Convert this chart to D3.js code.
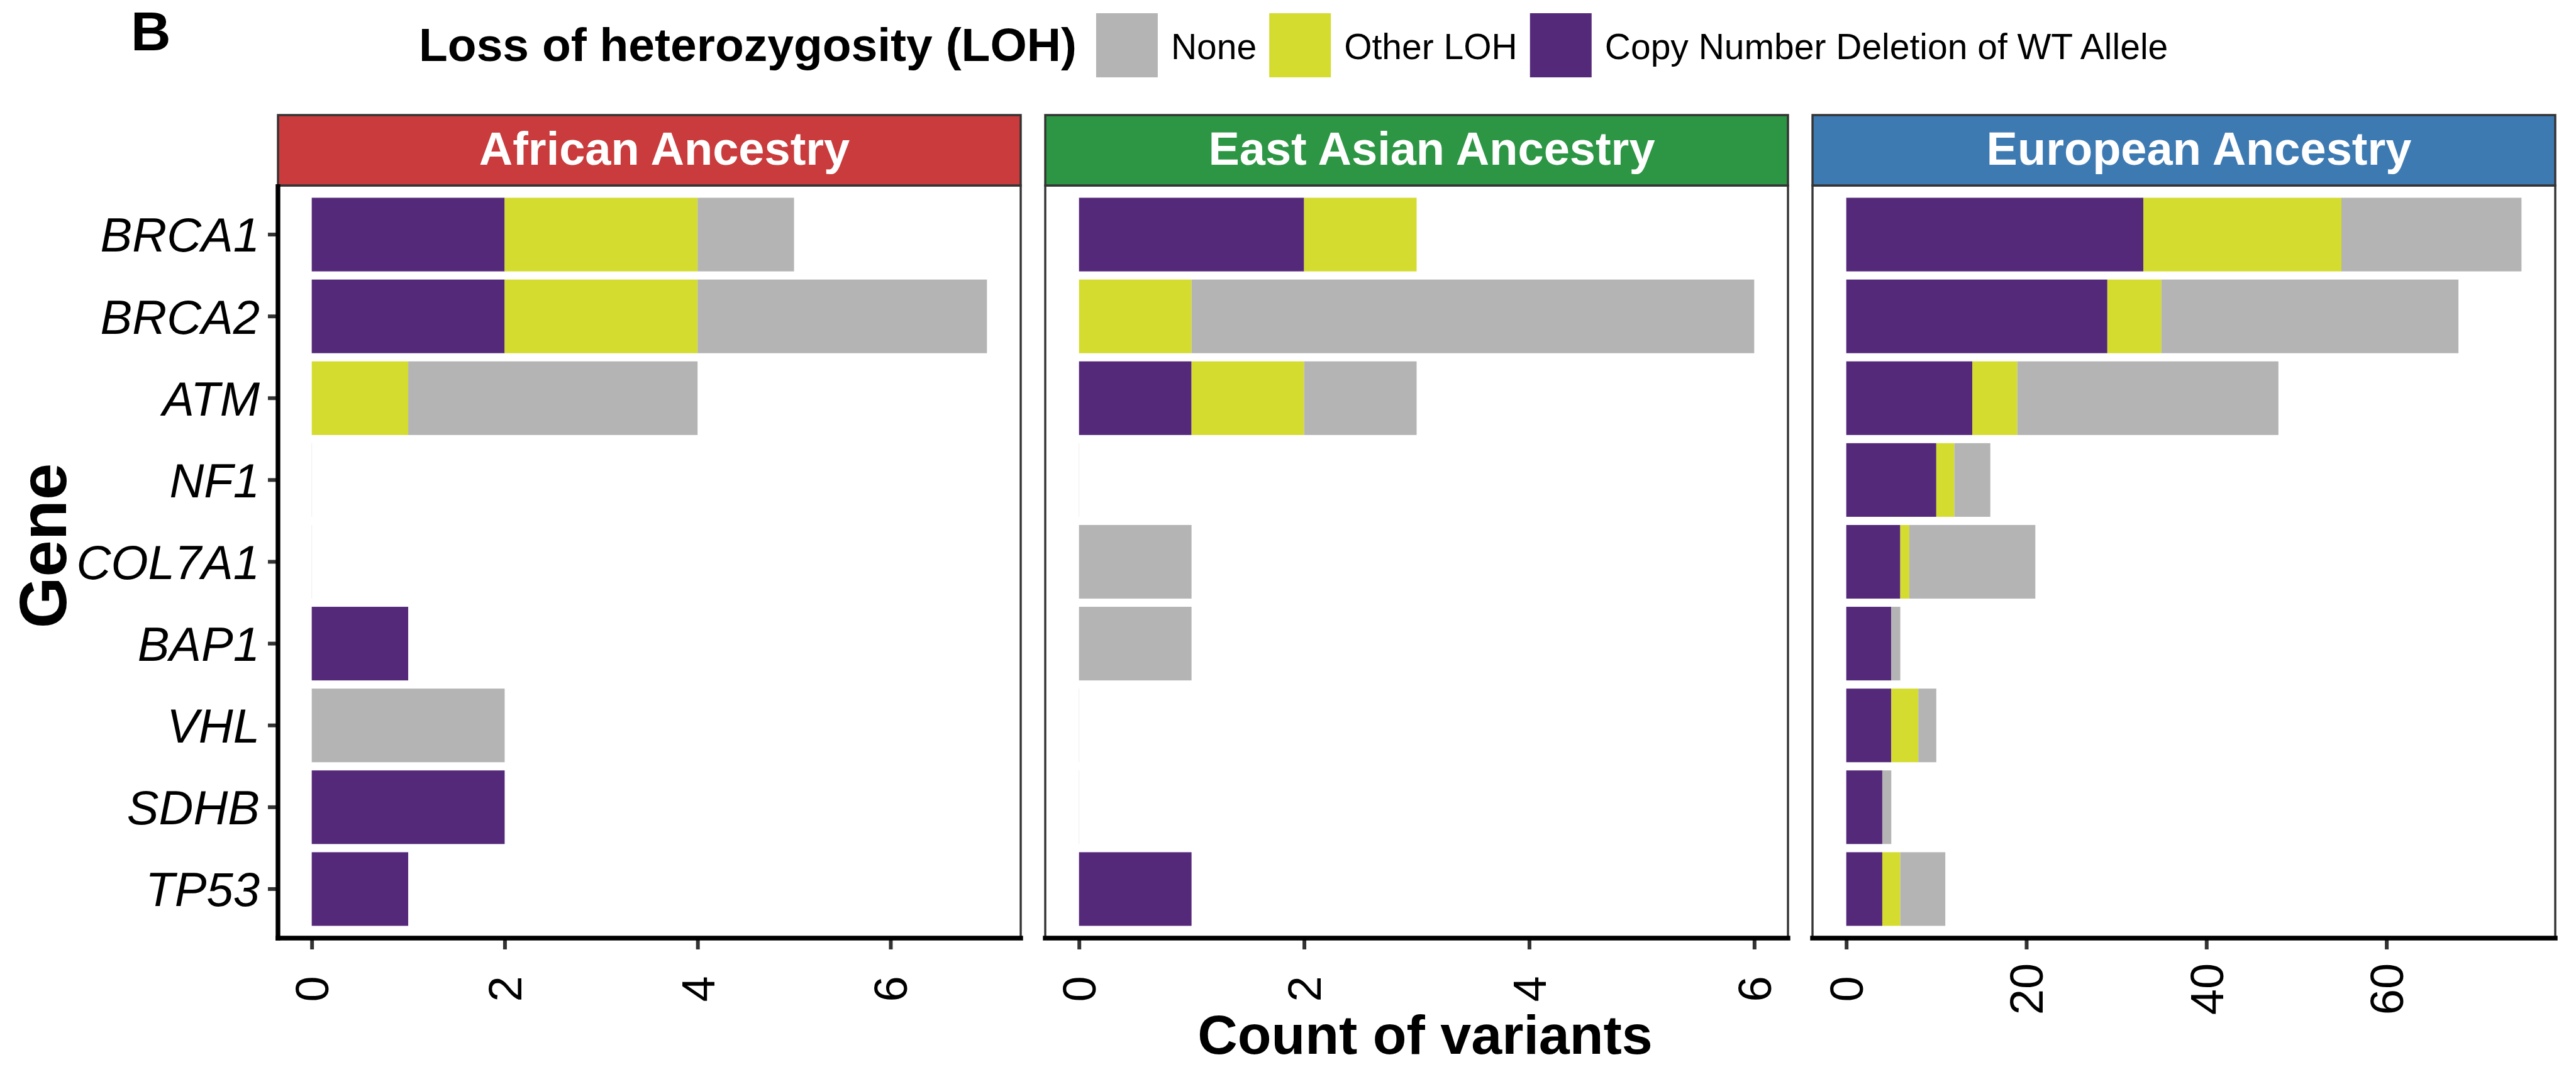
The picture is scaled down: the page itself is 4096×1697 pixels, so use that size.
<!DOCTYPE html>
<html>
<head>
<meta charset="utf-8">
<script src="https://cdn.jsdelivr.net/npm/d3@7"></script>
<style>
  html, body { margin: 0; padding: 0; background: #ffffff; }
  svg { display: block; }
</style>
</head>
<body>
<svg id="chart" width="4096" height="1697"></svg>
<script>
// Genes, top to bottom
const genes = ["BRCA1", "BRCA2", "ATM", "NF1", "COL7A1", "BAP1", "VHL", "SDHB", "TP53"];

// Facet panels
const ancestries = ["African Ancestry", "East Asian Ancestry", "European Ancestry"];

// LOH categories in stacking order (from zero outward) and legend order
const stackLevels = ["Copy Number Deletion of WT Allele", "Other LOH", "None"];
const legendLevels = ["None", "Other LOH", "Copy Number Deletion of WT Allele"];
const levelColors = ["#552979", "#D3DC2F", "#B4B4B4"];

// Variant counts per gene (same order as genes)
const africanDeletion = [2, 2, 0, 0, 0, 1, 0, 2, 1];
const africanOther    = [2, 2, 1, 0, 0, 0, 0, 0, 0];
const africanNone     = [1, 3, 3, 0, 0, 0, 2, 0, 0];

const eastAsianDeletion = [2, 0, 1, 0, 0, 0, 0, 0, 1];
const eastAsianOther    = [1, 1, 1, 0, 0, 0, 0, 0, 0];
const eastAsianNone     = [0, 5, 1, 0, 1, 1, 0, 0, 0];

const europeanDeletion = [33, 29, 14, 10, 6, 5, 5, 4, 4];
const europeanOther    = [22,  6,  5,  2, 1, 0, 3, 0, 2];
const europeanNone     = [20, 33, 29,  4, 14, 1, 2, 1, 5];

// Axis tick values per panel
const africanTicks = [0, 2, 4, 6];
const eastAsianTicks = [0, 2, 4, 6];
const europeanTicks = [0, 20, 40, 60];

const stripColors = ["#C93B3C", "#2C9644", "#3E7AB2"];

// Panel table assembled from the arrays above
const panels = [
  { name: ancestries[0], fill: stripColors[0], ticks: africanTicks,   series: [africanDeletion, africanOther, africanNone] },
  { name: ancestries[1], fill: stripColors[1], ticks: eastAsianTicks, series: [eastAsianDeletion, eastAsianOther, eastAsianNone] },
  { name: ancestries[2], fill: stripColors[2], ticks: europeanTicks,  series: [europeanDeletion, europeanOther, europeanNone] }
];

// ---- layout ----
const FONT = "'Liberation Sans', Arial, Helvetica, sans-serif";
const stripTop = 183, panelTop = 295, panelBottom = 1492;
const panelW = 1181, panelGap = 39, firstLeft = 442;
const svg = d3.select("#chart");

const y = d3.scaleBand()
  .domain(genes)
  .range([panelTop, panelBottom])
  .paddingInner(0.1)
  .paddingOuter(0.15);

panels.forEach((p, pi) => {
  const left = firstLeft + pi * (panelW + panelGap);
  const right = left + panelW;

  const rows = genes.map((g, gi) => {
    const row = { gene: g };
    stackLevels.forEach((lv, li) => { row[lv] = p.series[li][gi]; });
    return row;
  });
  const stacked = d3.stack().keys(stackLevels)(rows);
  const maxTotal = d3.max(rows, r => d3.sum(stackLevels, k => r[k]));

  const x = d3.scaleLinear()
    .domain([-0.05 * maxTotal, 1.05 * maxTotal])
    .range([left, right]);

  const g = svg.append("g");

  // panel background
  g.append("rect")
    .attr("x", left).attr("y", panelTop)
    .attr("width", panelW).attr("height", panelBottom - panelTop)
    .attr("fill", "#ffffff");

  // faint baseline for empty rows
  rows.forEach(r => {
    if (d3.sum(stackLevels, k => r[k]) === 0) {
      g.append("line")
        .attr("x1", x(0)).attr("x2", x(0))
        .attr("y1", y(r.gene)).attr("y2", y(r.gene) + y.bandwidth())
        .attr("stroke", "#f0f0f0").attr("stroke-width", 1.2);
    }
  });

  // stacked bars
  g.selectAll("g.layer")
    .data(stacked)
    .join("g")
    .attr("class", "layer")
    .attr("fill", d => levelColors[stackLevels.indexOf(d.key)])
    .selectAll("rect")
    .data(d => d.filter(s => s[1] > s[0]))
    .join("rect")
    .attr("x", d => x(d[0]))
    .attr("width", d => x(d[1]) - x(d[0]))
    .attr("y", d => y(d.data.gene))
    .attr("height", y.bandwidth());

  // panel border
  g.append("rect")
    .attr("x", left).attr("y", panelTop)
    .attr("width", panelW).attr("height", panelBottom - panelTop)
    .attr("fill", "none").attr("stroke", "#333333").attr("stroke-width", 3.4);

  // strip
  g.append("rect")
    .attr("x", left).attr("y", stripTop)
    .attr("width", panelW).attr("height", panelTop - stripTop)
    .attr("fill", p.fill).attr("stroke", "#333333").attr("stroke-width", 3.4);
  g.append("text")
    .attr("x", (left + right) / 2 + 24)
    .attr("y", 262)
    .attr("text-anchor", "middle")
    .attr("font-family", FONT).attr("font-weight", "bold")
    .attr("font-size", 74).attr("fill", "#ffffff")
    .text(p.name);

  // x axis
  const xAxis = d3.axisBottom(x).tickValues(p.ticks).tickSize(18).tickPadding(0).tickFormat(d3.format("d"));
  const ax = g.append("g").attr("transform", `translate(0,${panelBottom})`).call(xAxis);
  ax.select(".domain").remove();
  ax.selectAll(".tick line").attr("stroke", "#333333").attr("stroke-width", 6);
  ax.selectAll(".tick text")
    .attr("transform", "translate(0,81) rotate(-90)")
    .attr("y", 0).attr("dy", "0.35em")
    .attr("text-anchor", "middle")
    .attr("font-family", FONT).attr("font-size", 74).attr("fill", "#000000");
  g.append("line")
    .attr("x1", left - 3.7).attr("x2", right + 3.7)
    .attr("y1", panelBottom).attr("y2", panelBottom)
    .attr("stroke", "#000000").attr("stroke-width", 7.4);

  // y axis on the first panel only
  if (pi === 0) {
    const yAxis = d3.axisLeft(y).tickSize(16).tickPadding(13);
    const ay = g.append("g").attr("transform", `translate(${left},0)`).call(yAxis);
    ay.select(".domain").remove();
    ay.selectAll(".tick line").attr("stroke", "#333333").attr("stroke-width", 6);
    ay.selectAll(".tick text")
      .attr("font-family", FONT).attr("font-style", "italic")
      .attr("font-size", 76).attr("fill", "#000000").attr("dy", "0.36em");
    g.append("line")
      .attr("x1", left).attr("x2", left)
      .attr("y1", panelTop - 2).attr("y2", panelBottom + 3.7)
      .attr("stroke", "#000000").attr("stroke-width", 7.4);
  }
});

// axis titles
svg.append("text")
  .attr("x", 2266).attr("y", 1676)
  .attr("text-anchor", "middle")
  .attr("font-family", FONT).attr("font-weight", "bold").attr("font-size", 88)
  .text("Count of variants");

svg.append("text")
  .attr("transform", `translate(105,868) rotate(-90)`)
  .attr("text-anchor", "middle")
  .attr("font-family", FONT).attr("font-weight", "bold").attr("font-size", 105)
  .text("Gene");

// panel tag
svg.append("text")
  .attr("x", 208).attr("y", 80)
  .attr("font-family", FONT).attr("font-weight", "bold").attr("font-size", 88)
  .text("B");

// legend
const legend = svg.append("g");
const title = legend.append("text")
  .attr("x", 666).attr("y", 97)
  .attr("font-family", FONT).attr("font-weight", "bold").attr("font-size", 75)
  .text("Loss of heterozygosity (LOH)");
let cursor = 666 + title.node().getComputedTextLength() + 31;
legendLevels.forEach((lv, i) => {
  legend.append("rect")
    .attr("x", cursor).attr("y", 21)
    .attr("width", 98).attr("height", 102)
    .attr("fill", levelColors[stackLevels.indexOf(lv)]);
  const t = legend.append("text")
    .attr("x", cursor + 98 + 21).attr("y", 94)
    .attr("font-family", FONT).attr("font-size", 57)
    .text(lv);
  cursor += 98 + 21 + t.node().getComputedTextLength() + 20;
});
</script>
</body>
</html>
